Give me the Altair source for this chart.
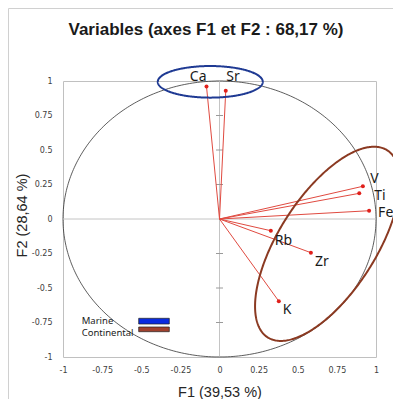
import numpy as np
import pandas as pd
import altair as alt

# ---------------- data ----------------
variables = ["Ca", "Sr", "V", "Ti", "Fe", "Rb", "Zr", "K"]
f1 = [-0.083, 0.040, 0.916, 0.893, 0.956, 0.328, 0.584, 0.379]
f2 = [0.960, 0.930, 0.237, 0.186, 0.060, -0.085, -0.244, -0.596]
tick_values = [-1, -0.75, -0.5, -0.25, 0, 0.25, 0.5, 0.75, 1]

group_names = ["Marine", "Continental"]
group_center_f1 = [-0.059, 0.690]
group_center_f2 = [0.994, -0.180]
group_semi_major_px = [52.5, 111.0]
group_semi_minor_px = [15.8, 48.5]
group_angle_deg = [0.0, 57.4]

title_text = "Variables (axes F1 et F2 : 68,17 %)"
x_title = "F1 (39,53 %)"
y_title = "F2 (28,64 %)"

# ---------------- layout / style ----------------
W, H = 313, 276
PAD_L, PAD_T, PAD_R, PAD_B = 55, 73, 17, 42
SX, SY = W / 2, H / 2

ellipse_colors = ["#1F3A93", "#8B3A22"]
swatch_colors = ["#0A2BE0", "#A0412D"]
red_line = "#E04A40"
red_point = "#E0201B"
gray = "#C4C4C4"

label_style = {
    "Ca": ("right", 0, -6),
    "Sr": ("left", 0.5, -10),
    "V": ("left", 7.5, -3),
    "Ti": ("left", 15, 7),
    "Fe": ("left", 9, 6.6),
    "Rb": ("left", 4, 14),
    "Zr": ("left", 4, 13),
    "K": ("left", 4, 13),
}

xs = alt.Scale(domain=[-1, 1], nice=False, zero=False)
ys = alt.Scale(domain=[-1, 1], nice=False, zero=False)

x_axis = alt.Axis(
    values=tick_values, labelExpr="'' + datum.value", labelFont="DejaVu Sans",
    labelFontSize=8, labelColor="#404040", labelPadding=9, labelFlush=False,
    labelOverlap=False, ticks=False, domain=False, grid=False,
    title=x_title, titleFont="Liberation Sans", titleFontSize=14.5,
    titleFontWeight="normal", titleColor="#262626", titleX=W / 2, titleY=39,
    titleBaseline="alphabetic", titleAlign="center",
)
y_axis = alt.Axis(
    values=tick_values, labelExpr="'' + datum.value", labelFont="DejaVu Sans",
    labelFontSize=8, labelColor="#404040", labelPadding=11, labelFlush=False,
    labelOverlap=False, ticks=False, domain=False, grid=False,
    title=y_title, titleFont="Liberation Sans", titleFontSize=14.5,
    titleFontWeight="normal", titleColor="#262626", titleX=-37, titleY=134,
    titleAngle=-90, titleBaseline="alphabetic", titleAlign="center",
)


def X(field):
    return alt.X(field, type="quantitative", scale=xs, axis=x_axis)


def Y(field):
    return alt.Y(field, type="quantitative", scale=ys, axis=y_axis)


# ---------------- tables ----------------
vars_df = pd.DataFrame({"var": variables, "F1": f1, "F2": f2,
                        "x0": [0.0] * len(f1), "y0": [0.0] * len(f1)})

t = np.linspace(0, 2 * np.pi, 361)
circle_df = pd.DataFrame({"F1": np.cos(t), "F2": np.sin(t), "i": np.arange(len(t))})

ell_rows = []
for k, g in enumerate(group_names):
    th = np.deg2rad(group_angle_deg[k])
    a, b = group_semi_major_px[k], group_semi_minor_px[k]
    dx = a * np.cos(t) * np.cos(th) - b * np.sin(t) * np.sin(th)
    dy = a * np.cos(t) * np.sin(th) + b * np.sin(t) * np.cos(th)
    ell_rows.append(pd.DataFrame({
        "group": g, "F1": group_center_f1[k] + dx / SX,
        "F2": group_center_f2[k] + dy / SY, "i": np.arange(len(t))}))

ticks_df = pd.DataFrame({"v": [v for v in tick_values if v != 0]})
axes_df = pd.DataFrame({"a": [-1.0], "b": [1.0], "z": [0.0]})

# ---------------- layers ----------------
layers = []

frame = alt.Chart(axes_df).mark_rect(fillOpacity=0, stroke="#D0D0D0", strokeWidth=1).encode(
    x=alt.value(-PAD_L + 0.5), y=alt.value(-PAD_T + 0.5),
    x2=alt.value(W + 200), y2=alt.value(H + 200))
layers.append(frame)

circle = alt.Chart(circle_df).mark_line(color="#333333", strokeWidth=0.8).encode(
    x=X("F1"), y=Y("F2"), order="i:Q")
layers.append(circle)

vaxis = alt.Chart(axes_df).mark_rule(color=gray, strokeWidth=1).encode(
    x=X("z"), y=Y("a"), y2="b")
haxis = alt.Chart(axes_df).mark_rule(color=gray, strokeWidth=1).encode(
    y=Y("z"), x=X("a"), x2="b")
vticks = alt.Chart(ticks_df).mark_rule(color="#9A9A9A", strokeWidth=1).encode(
    y=Y("v"), x=alt.value(W / 2 - 3.5), x2=alt.value(W / 2 + 3.5))
layers += [vaxis, haxis, vticks]

rays = alt.Chart(vars_df).mark_rule(color=red_line, strokeWidth=1).encode(
    x=X("x0"), y=Y("y0"), x2="F1", y2="F2")
layers.append(rays)

for k, g in enumerate(group_names):
    ell = alt.Chart(ell_rows[k]).mark_line(color=ellipse_colors[k], strokeWidth=2).encode(
        x=X("F1"), y=Y("F2"), order="i:Q")
    layers.append(ell)

pts = alt.Chart(vars_df).mark_circle(color=red_point, opacity=1, size=16).encode(
    x=X("F1"), y=Y("F2"))
layers.append(pts)

for v in variables:
    al, ddx, ddy = label_style[v]
    lab = alt.Chart(vars_df).transform_filter(alt.datum.var == v).mark_text(
        align=al, baseline="alphabetic", dx=ddx, dy=ddy, font="Noto Sans",
        fontSize=14, color="#1A1A1A").encode(x=X("F1"), y=Y("F2"), text="var:N")
    layers.append(lab)

# legend
leg_text_y = [243, 254.7]
leg_rect_y = [(237.3, 243.0), (246.0, 250.7)]
for k, g in enumerate(group_names):
    ldf = pd.DataFrame({"label": [g]})
    txt = alt.Chart(ldf).mark_text(align="left", baseline="alphabetic", font="Noto Sans",
                                   fontSize=9.5, color="#1A1A1A").encode(
        x=alt.value(18.7), y=alt.value(leg_text_y[k]), text="label:N")
    sw = alt.Chart(ldf).mark_rect(fill=swatch_colors[k], stroke="#202020", strokeWidth=0.7).encode(
        x=alt.value(75.7), x2=alt.value(106.3),
        y=alt.value(leg_rect_y[k][0]), y2=alt.value(leg_rect_y[k][1]))
    layers += [txt, sw]

ttl = alt.Chart(pd.DataFrame({"t": [title_text]})).mark_text(
    align="center", baseline="alphabetic", font="Liberation Sans", fontSize=17,
    fontWeight="bold", color="#1A1A1A").encode(
    x=alt.value(143), y=alt.value(-46), text="t:N")
layers.append(ttl)

chart = alt.layer(*layers).properties(
    width=W, height=H,
    autosize=alt.AutoSizeParams(type="none"),
    padding={"left": PAD_L, "top": PAD_T, "right": PAD_R, "bottom": PAD_B},
    background="white",
).configure_view(stroke="#C0C0C0", strokeWidth=1)

chart.save("out.html", embed_options={"renderer": "svg", "actions": False})
